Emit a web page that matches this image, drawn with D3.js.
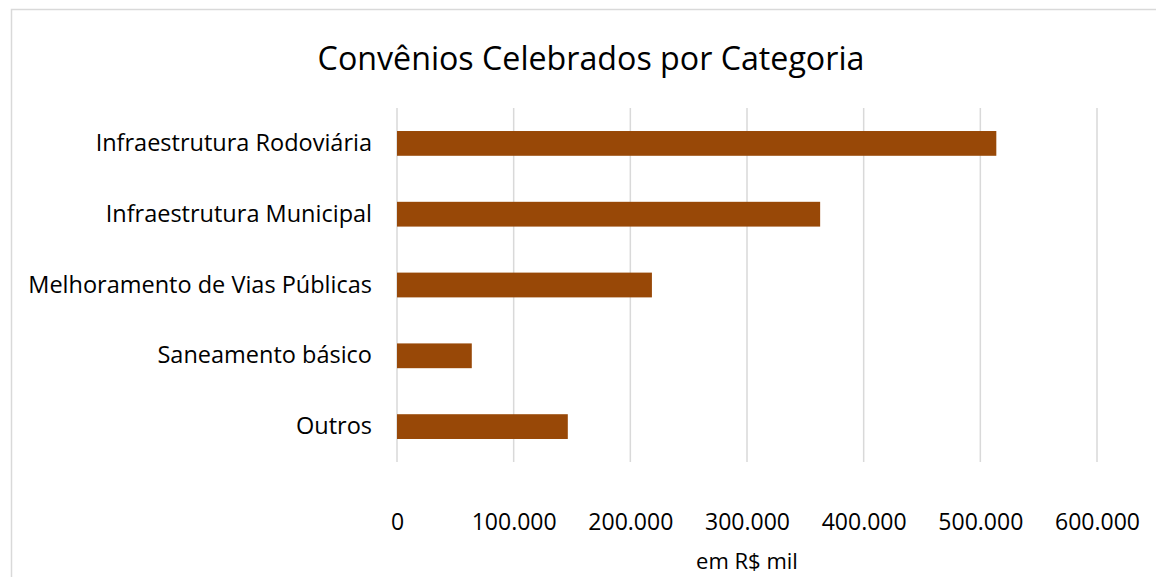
<!DOCTYPE html>
<html>
<head>
<meta charset="utf-8">
<script src="https://cdn.jsdelivr.net/npm/d3@7"></script>
<style>
  html, body { margin: 0; padding: 0; background: #fff; }
  svg { display: block; font-family: "Open Sans", sans-serif; }
</style>
</head>
<body>
<svg id="chart"></svg>
<script>
// data
const categories = ['Infraestrutura Rodoviária', 'Infraestrutura Municipal', 'Melhoramento de Vias Públicas', 'Saneamento básico', 'Outros'];
const values = [513700, 362700, 218500, 64100, 146400];
const xTicks = [0, 100000, 200000, 300000, 400000, 500000, 600000];

const W = 1156, H = 577;
const svg = d3.select('#chart').attr('width', W).attr('height', H);

// chart-area frame
svg.append('rect')
  .attr('x', 11.5).attr('y', 9.5).attr('width', W).attr('height', H)
  .attr('fill', '#fff').attr('stroke', '#d9d9d9').attr('stroke-width', 1.5);

const plot = { left: 397, right: 1097, top: 108, bottom: 462 };

const x = d3.scaleLinear().domain([0, 600000]).range([plot.left, plot.right]);
const y = d3.scaleBand().domain(categories).range([plot.top, plot.bottom]).paddingInner(0.65).paddingOuter(0.325);

const fmt = d => d === 0 ? '0' : d3.format(',')(d).replace(/,/g, '.');

// gridlines
svg.append('g')
  .selectAll('line').data(xTicks).join('line')
  .attr('x1', d => x(d)).attr('x2', d => x(d))
  .attr('y1', plot.top).attr('y2', plot.bottom)
  .attr('stroke', '#d9d9d9').attr('stroke-width', 1.5);

// bars
svg.append('g')
  .selectAll('rect').data(categories).join('rect')
  .attr('x', x(0))
  .attr('y', d => y(d))
  .attr('width', (d, i) => x(values[i]) - x(0))
  .attr('height', y.bandwidth())
  .attr('fill', '#984807');

// category axis
const yAxis = svg.append('g')
  .attr('transform', `translate(${plot.left},0)`)
  .call(d3.axisLeft(y).tickSize(0).tickPadding(25));
yAxis.select('.domain').remove();
yAxis.selectAll('text')
  .attr('font-family', '"Open Sans", sans-serif')
  .attr('font-size', 23.5).attr('fill', '#000');

// value axis
const xAxis = svg.append('g')
  .attr('transform', `translate(0,${plot.bottom})`)
  .call(d3.axisBottom(x).tickValues(xTicks).tickFormat(fmt).tickSize(0).tickPadding(52));
xAxis.select('.domain').remove();
xAxis.selectAll('text')
  .attr('font-family', '"Open Sans", sans-serif')
  .attr('font-size', 23).attr('fill', '#000');

// title
svg.append('text')
  .attr('x', 591).attr('y', 70)
  .attr('text-anchor', 'middle')
  .attr('font-size', 32.2).attr('fill', '#000')
  .text('Convênios Celebrados por Categoria');

// axis title
svg.append('text')
  .attr('x', 747).attr('y', 569)
  .attr('text-anchor', 'middle')
  .attr('font-size', 22).attr('fill', '#000')
  .text('em R$ mil');
</script>
</body>
</html>
